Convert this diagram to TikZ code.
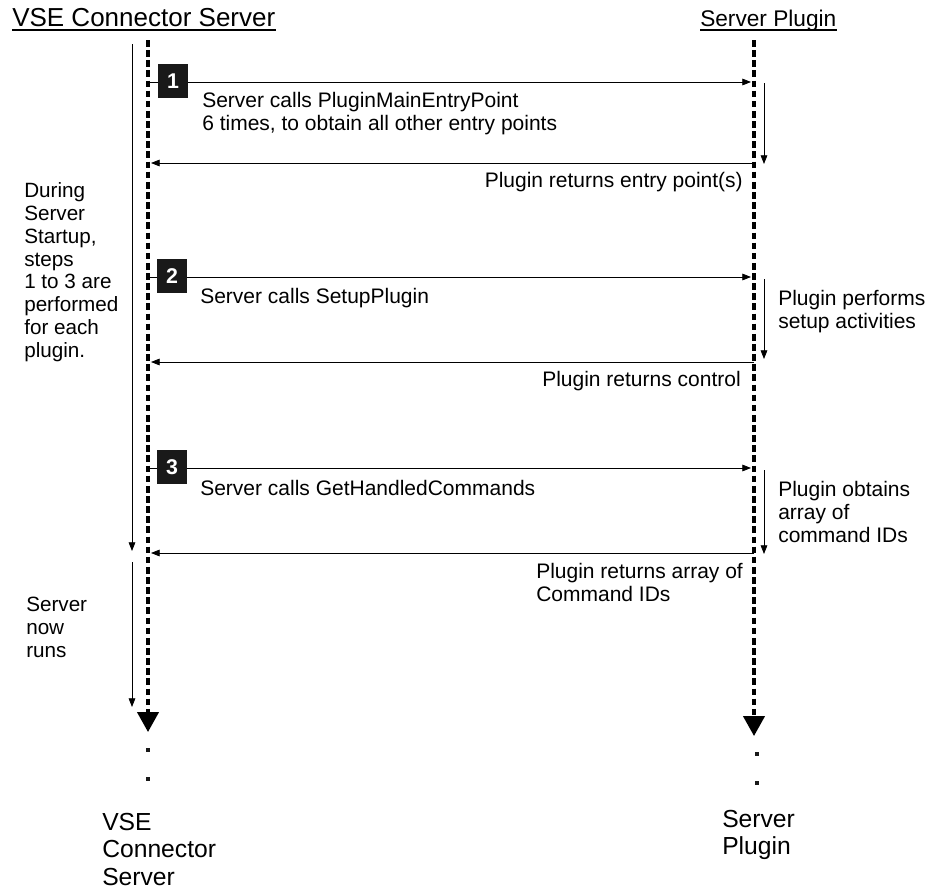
\documentclass[tikz,border=0pt]{standalone}
\usepackage{fontspec}
\setmainfont{Liberation Sans}
\usetikzlibrary{arrows.meta}

\begin{document}
\begin{tikzpicture}[x=0.75pt, y=-0.75pt,
  >={Triangle[length=6.5pt,width=5pt]},
  every node/.style={inner sep=0pt},
  lifeline/.style={line width=2.4pt, dash pattern=on 5pt off 2.6pt, -{Triangle[length=15pt,width=16pt]}},
  msg/.style={line width=0.6pt, ->},
  stepno/.style={fill=black!90, text=white, minimum width=22.5pt, minimum height=25pt, font=\fontsize{16}{16}\selectfont\bfseries},
  txt/.style={anchor=north west, align=left, font=\fontsize{15.75}{17.3}\selectfont},
  rtxt/.style={anchor=north east, align=right, font=\fontsize{15.75}{17.3}\selectfont},
  side/.style={anchor=north west, align=left, font=\fontsize{15.5}{17.2}\selectfont},
  foot/.style={anchor=north west, align=left, font=\fontsize{18.5}{20.6}\selectfont},
  dotm/.style={fill=black!90, minimum size=3pt}]
\useasboundingbox (0,0) rectangle (925,890);

% headings
\node[anchor=base west, font=\fontsize{19.5}{20}\selectfont] (hserver) at (12,26) {VSE Connector Server};
\node[anchor=base west, font=\fontsize{17}{18}\selectfont] (hplugin) at (700,26) {Server Plugin};
\draw[line width=0.8pt] ([yshift=-3pt]hserver.base west) -- ([yshift=-3pt]hserver.base east);
\draw[line width=0.8pt] ([yshift=-3pt]hplugin.base west) -- ([yshift=-3pt]hplugin.base east);

% lifelines
\coordinate (ltop) at (148,40);
\coordinate (lbot) at (148,732);
\coordinate (rtop) at (754,40);
\coordinate (rbot) at (754,736);
\draw[lifeline] (ltop) -- (lbot);
\draw[lifeline] (rtop) -- (rbot);
\node[dotm] (ldot1) at (148,750) {};
\node[dotm] (ldot2) at (148,779) {};
\node[dotm] (rdot1) at (757,754) {};
\node[dotm] (rdot2) at (757,783) {};

% server side time arrows
\coordinate (st1) at (132,44);
\coordinate (se1) at (132,551);
\coordinate (st2) at (132,562);
\coordinate (se2) at (132,707);
\draw[msg] (st1) -- (se1);
\draw[msg] (st2) -- (se2);
\node[side] (startup) at (24,182) {During\\Server\\Startup,\\steps\\1 to 3 are\\performed\\for each\\plugin.};
\node[side] (runs) at (26,597) {Server\\now\\runs};

% step 1
\coordinate (c1) at (148,82);
\coordinate (p1) at (751,82);
\coordinate (r1a) at (754,163);
\coordinate (r1b) at (151,163);
\draw[msg] (c1) -- (p1);
\node[stepno] (n1) at (173,81) {1};
\node[txt] (call1) at (202,92) {Server calls PluginMainEntryPoint\\6 times, to obtain all other entry points};
\coordinate (w1a) at (764,83);
\coordinate (w1b) at (764,164);
\draw[msg] (w1a) -- (w1b);
\draw[msg] (r1a) -- (r1b);
\node[rtxt] (ret1) at (743,172) {Plugin returns entry point(s)};

% step 2
\coordinate (c2) at (148,277);
\coordinate (p2) at (751,277);
\coordinate (r2a) at (754,362);
\coordinate (r2b) at (151,362);
\draw[msg] (c2) -- (p2);
\node[stepno] (n2) at (172,276) {2};
\node[txt] (call2) at (200,288) {Server calls SetupPlugin};
\coordinate (w2a) at (764,279);
\coordinate (w2b) at (764,359);
\draw[msg] (w2a) -- (w2b);
\node[txt] (act2) at (778,290) {Plugin performs\\setup activities};
\draw[msg] (r2a) -- (r2b);
\node[rtxt] (ret2) at (741,371) {Plugin returns control};

% step 3
\coordinate (c3) at (148,468);
\coordinate (p3) at (751,468);
\coordinate (r3a) at (754,553);
\coordinate (r3b) at (151,553);
\draw[msg] (c3) -- (p3);
\node[stepno] (n3) at (172,467) {3};
\node[txt] (call3) at (200,480) {Server calls GetHandledCommands};
\coordinate (w3a) at (764,470);
\coordinate (w3b) at (764,554);
\draw[msg] (w3a) -- (w3b);
\node[txt] (act3) at (778,481) {Plugin obtains\\array of\\command IDs};
\draw[msg] (r3a) -- (r3b);
\node[txt] (ret3) at (536,563) {Plugin returns array of\\Command IDs};

% bottom labels
\node[foot] (fserver) at (102,813) {VSE\\Connector\\Server};
\node[foot] (fplugin) at (722,810) {Server\\Plugin};
\end{tikzpicture}
\end{document}
